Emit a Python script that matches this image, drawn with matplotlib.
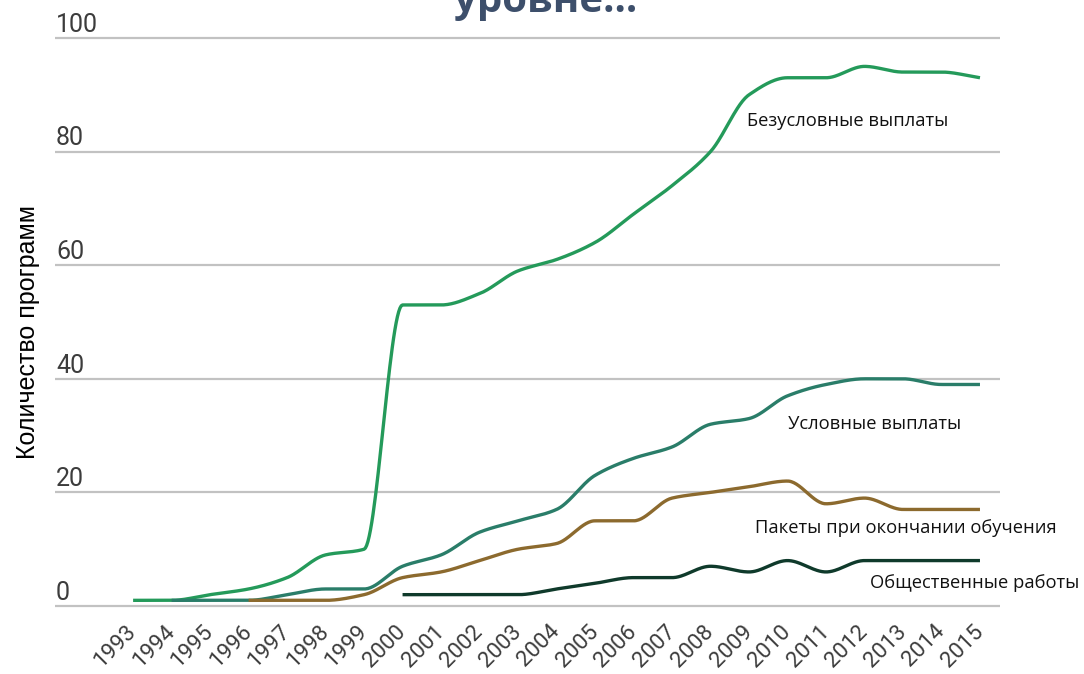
import matplotlib
matplotlib.use("Agg")
import matplotlib.pyplot as plt
import matplotlib.transforms as mtransforms
import numpy as np

# --- data ---
years_uncond = list(range(1993, 2016))
uncond = [1, 1, 2, 3, 5, 9, 10, 53, 53, 55, 59, 61, 64, 69, 74, 80, 90, 93, 93, 95, 94, 94, 93]

years_cond = list(range(1994, 2016))
cond = [1, 1, 1, 2, 3, 3, 7, 9, 13, 15, 17, 23, 26, 28, 32, 33, 37, 39, 40, 40, 39, 39]

years_grad = list(range(1996, 2016))
grad = [1, 1, 1, 2, 5, 6, 8, 10, 11, 15, 15, 19, 20, 21, 22, 18, 19, 17, 17, 17]

years_works = list(range(2000, 2016))
works = [2, 2, 2, 2, 3, 4, 5, 5, 7, 6, 8, 6, 8, 8, 8, 8]

series_names = ["Безусловные выплаты", "Условные выплаты",
                "Пакеты при окончании обучения", "Общественные работы"]
y_ticks = [0, 20, 40, 60, 80, 100]
x_ticks = list(range(1993, 2016))


def monotone(xs, ys, n=30):
    # Fritsch-Carlson monotone cubic, used only to draw the smoothed line
    x = np.asarray(xs, float)
    y = np.asarray(ys, float)
    h = np.diff(x)
    d = np.diff(y) / h
    m = np.zeros_like(y)
    m[0], m[-1] = d[0], d[-1]
    for i in range(1, len(y) - 1):
        if d[i - 1] * d[i] > 0:
            w1 = 2 * h[i] + h[i - 1]
            w2 = h[i] + 2 * h[i - 1]
            m[i] = (w1 + w2) / (w1 / d[i - 1] + w2 / d[i])
    ox, oy = [], []
    for i in range(len(x) - 1):
        t = np.linspace(0, 1, n, endpoint=False)
        h00 = 2 * t**3 - 3 * t**2 + 1
        h10 = t**3 - 2 * t**2 + t
        h01 = -2 * t**3 + 3 * t**2
        h11 = t**3 - t**2
        ox.append(x[i] + t * h[i])
        oy.append(h00 * y[i] + h10 * h[i] * m[i] + h01 * y[i + 1] + h11 * h[i] * m[i + 1])
    ox.append([x[-1]])
    oy.append([y[-1]])
    return np.concatenate(ox), np.concatenate(oy)


fig = plt.figure(figsize=(10.84, 6.74), dpi=100)
ax = fig.add_axes([0.0507, 0.0840, 0.8718, 0.8765])
ax.set_xlim(1990.97, 2015.52)
ax.set_ylim(-2, 102)

colors = ["#249a5a", "#2a7d69", "#8c6a2e", "#0f3a2b"]
data = [(years_uncond, uncond), (years_cond, cond), (years_grad, grad), (years_works, works)]
for (xs, ys), c in zip(data, colors):
    sx, sy = monotone(xs, ys)
    ax.plot(sx, sy, color=c, lw=2.4, solid_capstyle="butt", zorder=3)

for v in y_ticks:
    ax.axhline(v, color="#c2c2c2", lw=1.6, zorder=1)

for s in ax.spines.values():
    s.set_visible(False)
ax.set_yticks([])
ax.set_xticks(x_ticks)
ax.tick_params(axis="x", length=0, pad=0)
ax.set_xticklabels([])

blend = mtransforms.blended_transform_factory(ax.transAxes, ax.transData)
for v in y_ticks:
    ax.text(0.001, v, str(v), transform=mtransforms.offset_copy(blend, fig=fig, x=0, y=4.5, units="points"),
            ha="left", va="baseline", fontsize=18, color="#3c3c3c", family=["Roboto", "DejaVu Sans"])

xblend = mtransforms.blended_transform_factory(ax.transData, ax.transAxes)
for yr in x_ticks:
    ax.text(yr, 0, str(yr), transform=mtransforms.offset_copy(xblend, fig=fig, x=5.5, y=-2.5, units="points"),
            ha="right", va="top", rotation=45, fontsize=16, color="#3c3c3c",
            family=["Roboto", "DejaVu Sans"])

lab_kw = dict(ha="left", va="center", fontsize=13.2, color="#111111", family=["Open Sans", "DejaVu Sans"])
ax.text(2008.95, 85.4, series_names[0], **lab_kw)
ax.text(2010.0, 32.0, series_names[1], **lab_kw)
ax.text(2009.16, 13.7, series_names[2], **lab_kw)
ax.text(2012.14, 4.0, series_names[3], **lab_kw)

fig.text(0.0258, 0.507, "Количество программ", rotation=90, ha="center", va="center",
         fontsize=18, color="#000000", family=["Liberation Sans", "DejaVu Sans"])
fig.text(0.503, 1 - 12 / 674, "уровне...", ha="center", va="baseline", fontsize=29,
         fontweight="bold", color="#3d4f6b", family=["Open Sans", "DejaVu Sans"])

fig.savefig("out.png", dpi=100)
